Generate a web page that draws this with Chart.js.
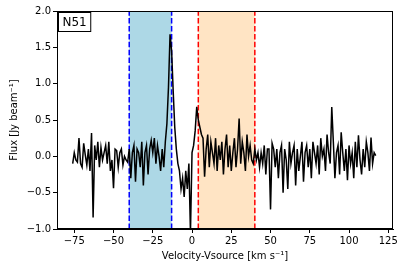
<!DOCTYPE html>
<html>
<head>
<meta charset="utf-8">
<script src="https://cdn.jsdelivr.net/npm/chart.js@4/dist/chart.umd.min.js"></script>
<style>
  html, body { margin: 0; padding: 0; background: #fff; }
  #wrap { width: 405px; height: 272px; }
</style>
</head>
<body>
<div id="wrap"><canvas id="spectrumChart" width="405" height="272"></canvas></div>
<script>
// N51 spectrum, channels every 1 km/s starting at -76 km/s
const vStart = -76;
const vStep = 1;
const flux = [
  -0.10, 0.05, -0.05, -0.08, 0.25, -0.10, -0.15, 0.18, 0.02, -0.12,
  0.10, -0.20, 0.32, -0.84, 0.15, -0.05, 0.20, -0.15, 0.12, -0.05,
  0.05, 0.15, -0.10, 0.20, -0.20, -0.05, -0.44, 0.10, 0.08, -0.15,
  0.05, 0.10, -0.12, 0.00, -0.05, -0.08, 0.10, -0.30, 0.05, 0.15,
  -0.35, 0.10, 0.05, -0.15, 0.20, -0.40, 0.05, 0.15, -0.25, 0.10,
  0.22, 0.05, 0.25, -0.10, 0.15, 0.00, -0.20, 0.10, -0.15, 0.20,
  0.45, 0.95, 1.68, 1.45, 0.90, 0.40, 0.10, -0.10, -0.20, -0.45,
  -0.30, -0.56, -0.20, -0.45, -0.10, -1.05, 0.05, 0.15, 0.35, 0.68,
  0.50, 0.40, 0.30, 0.25, -0.28, 0.10, 0.30, -0.15, 0.20, 0.05,
  -0.10, 0.25, -0.20, 0.15, -0.05, 0.20, -0.25, 0.10, 0.30, -0.15,
  0.15, -0.20, 0.05, 0.25, -0.15, 0.10, 0.52, -0.10, 0.20, 0.05,
  -0.20, 0.30, 0.00, 0.15, -0.05, -0.10, 0.10, -0.05, 0.05, -0.15,
  0.05, -0.10, 0.15, -0.25, 0.10, 0.10, -0.73, 0.18, 0.10, -0.15,
  0.10, -0.30, 0.05, 0.15, -0.50, 0.10, -0.05, -0.45, 0.20, -0.10,
  0.05, 0.15, -0.40, 0.10, -0.20, 0.00, 0.20, -0.35, 0.05, 0.15,
  -0.15, 0.10, -0.30, 0.20, 0.05, -0.10, 0.15, -0.25, 0.25, 0.00,
  0.10, -0.20, 0.30, 0.05, -0.10, 0.68, 0.20, -0.30, 0.05, 0.15,
  -0.25, 0.33, 0.05, -0.20, 0.10, -0.33, 0.15, -0.10, 0.05, -0.30,
  0.20, -0.15, 0.29, -0.05, -0.25, 0.10, -0.15, 0.20, 0.05, -0.20,
  0.26, -0.10, 0.05, 0.01
];

// integration windows [from, to] in km/s
const blueWindow = [-40, -13];
const redWindow = [4, 40];

const xTicks = [-75, -50, -25, 0, 25, 50, 75, 100, 125];
const yTicks = [-1.0, -0.5, 0.0, 0.5, 1.0, 1.5, 2.0];
const sourceName = 'N51';

const points = flux.map((f, i) => ({ x: vStart + i * vStep, y: f }));

const FONT = 'DejaVu Sans';

function minus(s) { return String(s).replace('-', '\u2212'); }

// shaded windows + dashed edges + frame + label box
const windowsPlugin = {
  id: 'windows',
  beforeDatasetsDraw(chart) {
    const { ctx, chartArea: a, scales: { x } } = chart;
    const draw = (win, fillCol, lineCol) => {
      const x0 = x.getPixelForValue(win[0]);
      const x1 = x.getPixelForValue(win[1]);
      ctx.save();
      ctx.fillStyle = fillCol;
      ctx.fillRect(x0, a.top, x1 - x0, a.bottom - a.top);
      ctx.strokeStyle = lineCol;
      ctx.lineWidth = 1.5;
      ctx.setLineDash([5.5, 2.4]);
      [x0, x1].forEach(px => {
        ctx.beginPath();
        ctx.moveTo(px, a.bottom);
        ctx.lineTo(px, a.top);
        ctx.stroke();
      });
      ctx.restore();
    };
    draw(blueWindow, '#add8e6', '#0000ff');
    draw(redWindow, '#ffe4c4', '#ff0000');
  },
  afterDraw(chart) {
    const { ctx, chartArea: a } = chart;
    ctx.save();
    ctx.strokeStyle = '#000';
    ctx.lineWidth = 1;
    ctx.strokeRect(Math.round(a.left) + 0.5, Math.round(a.top) + 0.5,
      Math.round(a.right - a.left) - 1, Math.round(a.bottom - a.top) - 1);
    // label box
    ctx.font = '12px ' + FONT;
    const w = ctx.measureText(sourceName).width;
    const bx = a.left + 1.5, by = a.top + 1.5;
    ctx.fillStyle = '#fff';
    ctx.fillRect(bx, by, w + 8, 19);
    ctx.strokeRect(bx, by, w + 8, 19);
    ctx.fillStyle = '#000';
    ctx.textBaseline = 'middle';
    ctx.fillText(sourceName, bx + 4, by + 10);
    ctx.restore();
  }
};

new Chart(document.getElementById('spectrumChart').getContext('2d'), {
  type: 'line',
  data: {
    datasets: [{
      label: 'Flux',
      data: points,
      borderColor: '#000',
      borderWidth: 1.5,
      pointRadius: 0,
      tension: 0,
      fill: false
    }]
  },
  options: {
    responsive: false,
    animation: false,
    layout: { padding: { left: 0, right: 12, top: 11, bottom: 0 } },
    plugins: { legend: { display: false }, tooltip: { enabled: false } },
    scales: {
      x: {
        type: 'linear',
        min: -86,
        max: 128,
        afterBuildTicks: s => { s.ticks = xTicks.map(v => ({ value: v })); },
        afterFit: s => { s.height = 43; },
        grid: { drawOnChartArea: false, drawTicks: true, tickLength: 4, color: '#000', lineWidth: 1 },
        border: { color: '#000', width: 1 },
        ticks: {
          color: '#000', padding: 2, maxRotation: 0,
          font: { family: FONT, size: 10 },
          callback: v => minus(v)
        },
        title: {
          display: true,
          text: 'Velocity-Vsource [km s\u207B\u00B9]',
          color: '#000',
          font: { family: FONT, size: 10 },
          padding: { top: 0, bottom: 10 }
        }
      },
      y: {
        min: -1,
        max: 2,
        afterBuildTicks: s => { s.ticks = yTicks.map(v => ({ value: v })); },
        afterFit: s => { s.width = 57; },
        grid: { drawOnChartArea: false, drawTicks: true, tickLength: 4, color: '#000', lineWidth: 1 },
        border: { color: '#000', width: 1 },
        ticks: {
          color: '#000', padding: 2,
          font: { family: FONT, size: 10 },
          callback: v => minus(Number(v).toFixed(1))
        },
        title: {
          display: true,
          text: 'Flux [Jy beam\u207B\u00B9]',
          color: '#000',
          font: { family: FONT, size: 10 },
          padding: { top: 8, bottom: 0 }
        }
      }
    }
  },
  plugins: [windowsPlugin]
});
</script>
</body>
</html>
